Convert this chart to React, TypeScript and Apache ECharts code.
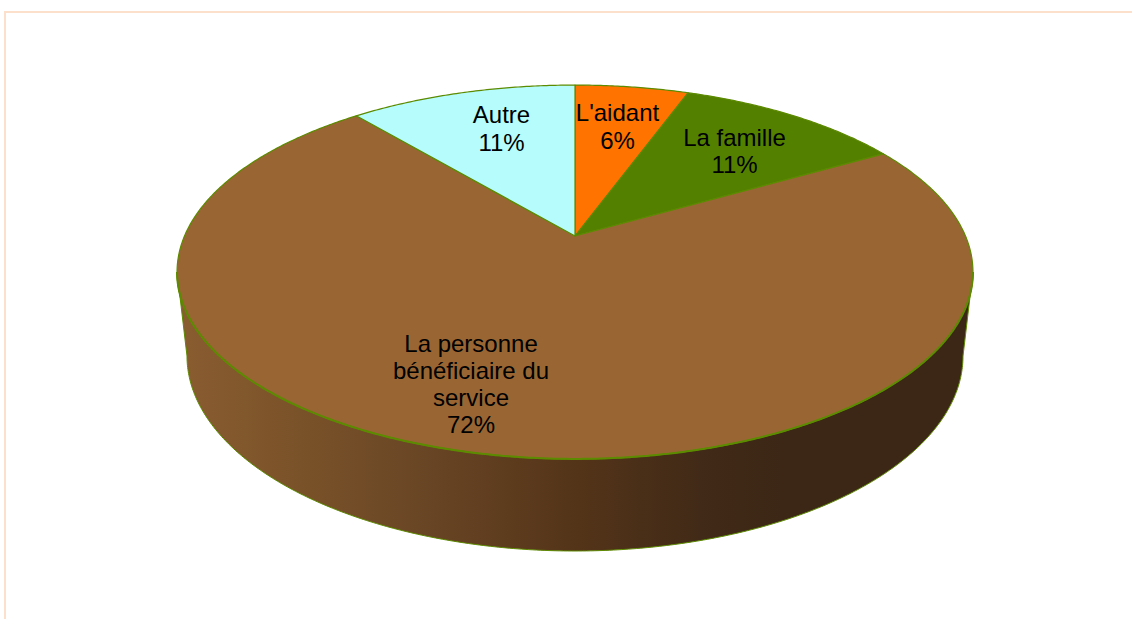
import React, { useEffect, useRef } from "react";
import * as echarts from "echarts";

const categories = ["L'aidant", "La famille", "La personne\nbénéficiaire du\nservice", "Autre"];
const seriesValues = [1, 2, 13, 2];
const sliceColors = ["#ff7300", "#548000", "#996633", "#b6fcfc"];
const labelAnchors = [
  [617.5, 126.5],
  [734.5, 151],
  [471, 384],
  [501.5, 128.5],
];

const total = seriesValues.reduce((a, b) => a + b, 0);
const EDGE = "#5c8a00";
const K = 0.1925;
const CX = 575;
const APEX_Y = 236;
const A = 390.5;
const B = 180;
const BASE = { cy: 356, rx: 388, ry: 195 };
const FRONT_START = (180 * Math.acos(-K)) / Math.PI;
const FRONT_END = 360 - FRONT_START;

const rim = (deg: number) => {
  const t = (deg * Math.PI) / 180;
  const w = 1 + K * Math.cos(t);
  return [CX + (A * Math.sin(t)) / w, APEX_Y - (B * Math.cos(t)) / w];
};
const base = (deg: number) => {
  const f = (deg - FRONT_START) / (FRONT_END - FRONT_START);
  const t = Math.PI * f;
  return [CX + BASE.rx * Math.cos(t), BASE.cy + BASE.ry * Math.sin(t)];
};
const sweep = (a: number, b: number, fn: (d: number) => number[]) => {
  const n = Math.max(2, Math.ceil(Math.abs(b - a) * 2));
  const pts: number[][] = [];
  for (let i = 0; i <= n; i++) pts.push(fn(a + ((b - a) * i) / n));
  return pts;
};
const startOf = (i: number) => (360 * seriesValues.slice(0, i).reduce((s, v) => s + v, 0)) / total;

const wallFill = new echarts.graphic.LinearGradient(0, 0, 1, 0, [
  { offset: 0, color: "#8a5d30" },
  { offset: 0.155, color: "#7a5229" },
  { offset: 0.28, color: "#6c4826" },
  { offset: 0.49, color: "#553519" },
  { offset: 0.657, color: "#412a17" },
  { offset: 0.76, color: "#3c2615" },
  { offset: 1, color: "#3c2615" },
]);

const renderSlice = (params: any, api: any) => {
  const i = api.value(1);
  const a = startOf(i);
  const b = a + (360 * api.value(0)) / total;
  const children: any[] = [];
  const wa = Math.max(a, FRONT_START);
  const wb = Math.min(b, FRONT_END);
  if (wb > wa) {
    children.push({
      type: "polygon",
      shape: { points: [...sweep(wa, wb, rim), ...sweep(wb, wa, base)] },
      style: { fill: wallFill, stroke: EDGE, lineWidth: 1 },
    });
  }
  children.push({
    type: "polygon",
    shape: { points: [[CX, APEX_Y], ...sweep(a, b, rim)] },
    style: { fill: sliceColors[i], stroke: EDGE, lineWidth: 1.2, lineJoin: "round" },
  });
  if (wb > wa) {
    children.push({
      type: "polyline",
      shape: { points: sweep(wa, wb, rim) },
      style: { fill: "none", stroke: EDGE, lineWidth: 2 },
    });
  }
  return { type: "group", children };
};

const renderLabel = (params: any, api: any) => {
  const i = api.value(1);
  const pct = Math.round((100 * api.value(0)) / total);
  return {
    type: "text",
    x: labelAnchors[i][0],
    y: labelAnchors[i][1],
    style: {
      text: `${categories[i]}\n${pct}%`,
      fill: "#000000",
      font: '24px "Liberation Sans", Arial, sans-serif',
      lineHeight: 27.3,
      textAlign: "center",
      textVerticalAlign: "middle",
    },
  };
};

export default function App() {
  const ref = useRef<HTMLDivElement>(null);
  useEffect(() => {
    const chart = echarts.init(ref.current!, null, { renderer: "svg" });
    const data = seriesValues.map((v, i) => [v, i]);
    chart.setOption({
      animation: false,
      backgroundColor: "#ffffff",
      graphic: [
        { type: "rect", shape: { x: 4, y: 11, width: 1128, height: 2 }, style: { fill: "#fde0cb" }, silent: true },
        { type: "rect", shape: { x: 4, y: 11, width: 2, height: 608 }, style: { fill: "#fde0cb" }, silent: true },
      ],
      series: [
        { type: "custom", coordinateSystem: "none", renderItem: renderSlice, data, silent: true, z: 2 },
        { type: "custom", coordinateSystem: "none", renderItem: renderLabel, data, silent: true, z: 3 },
      ],
    });
    return () => chart.dispose();
  }, []);
  return <div ref={ref} style={{ position: "fixed", left: 0, top: 0, width: 1132, height: 619 }} />;
}
